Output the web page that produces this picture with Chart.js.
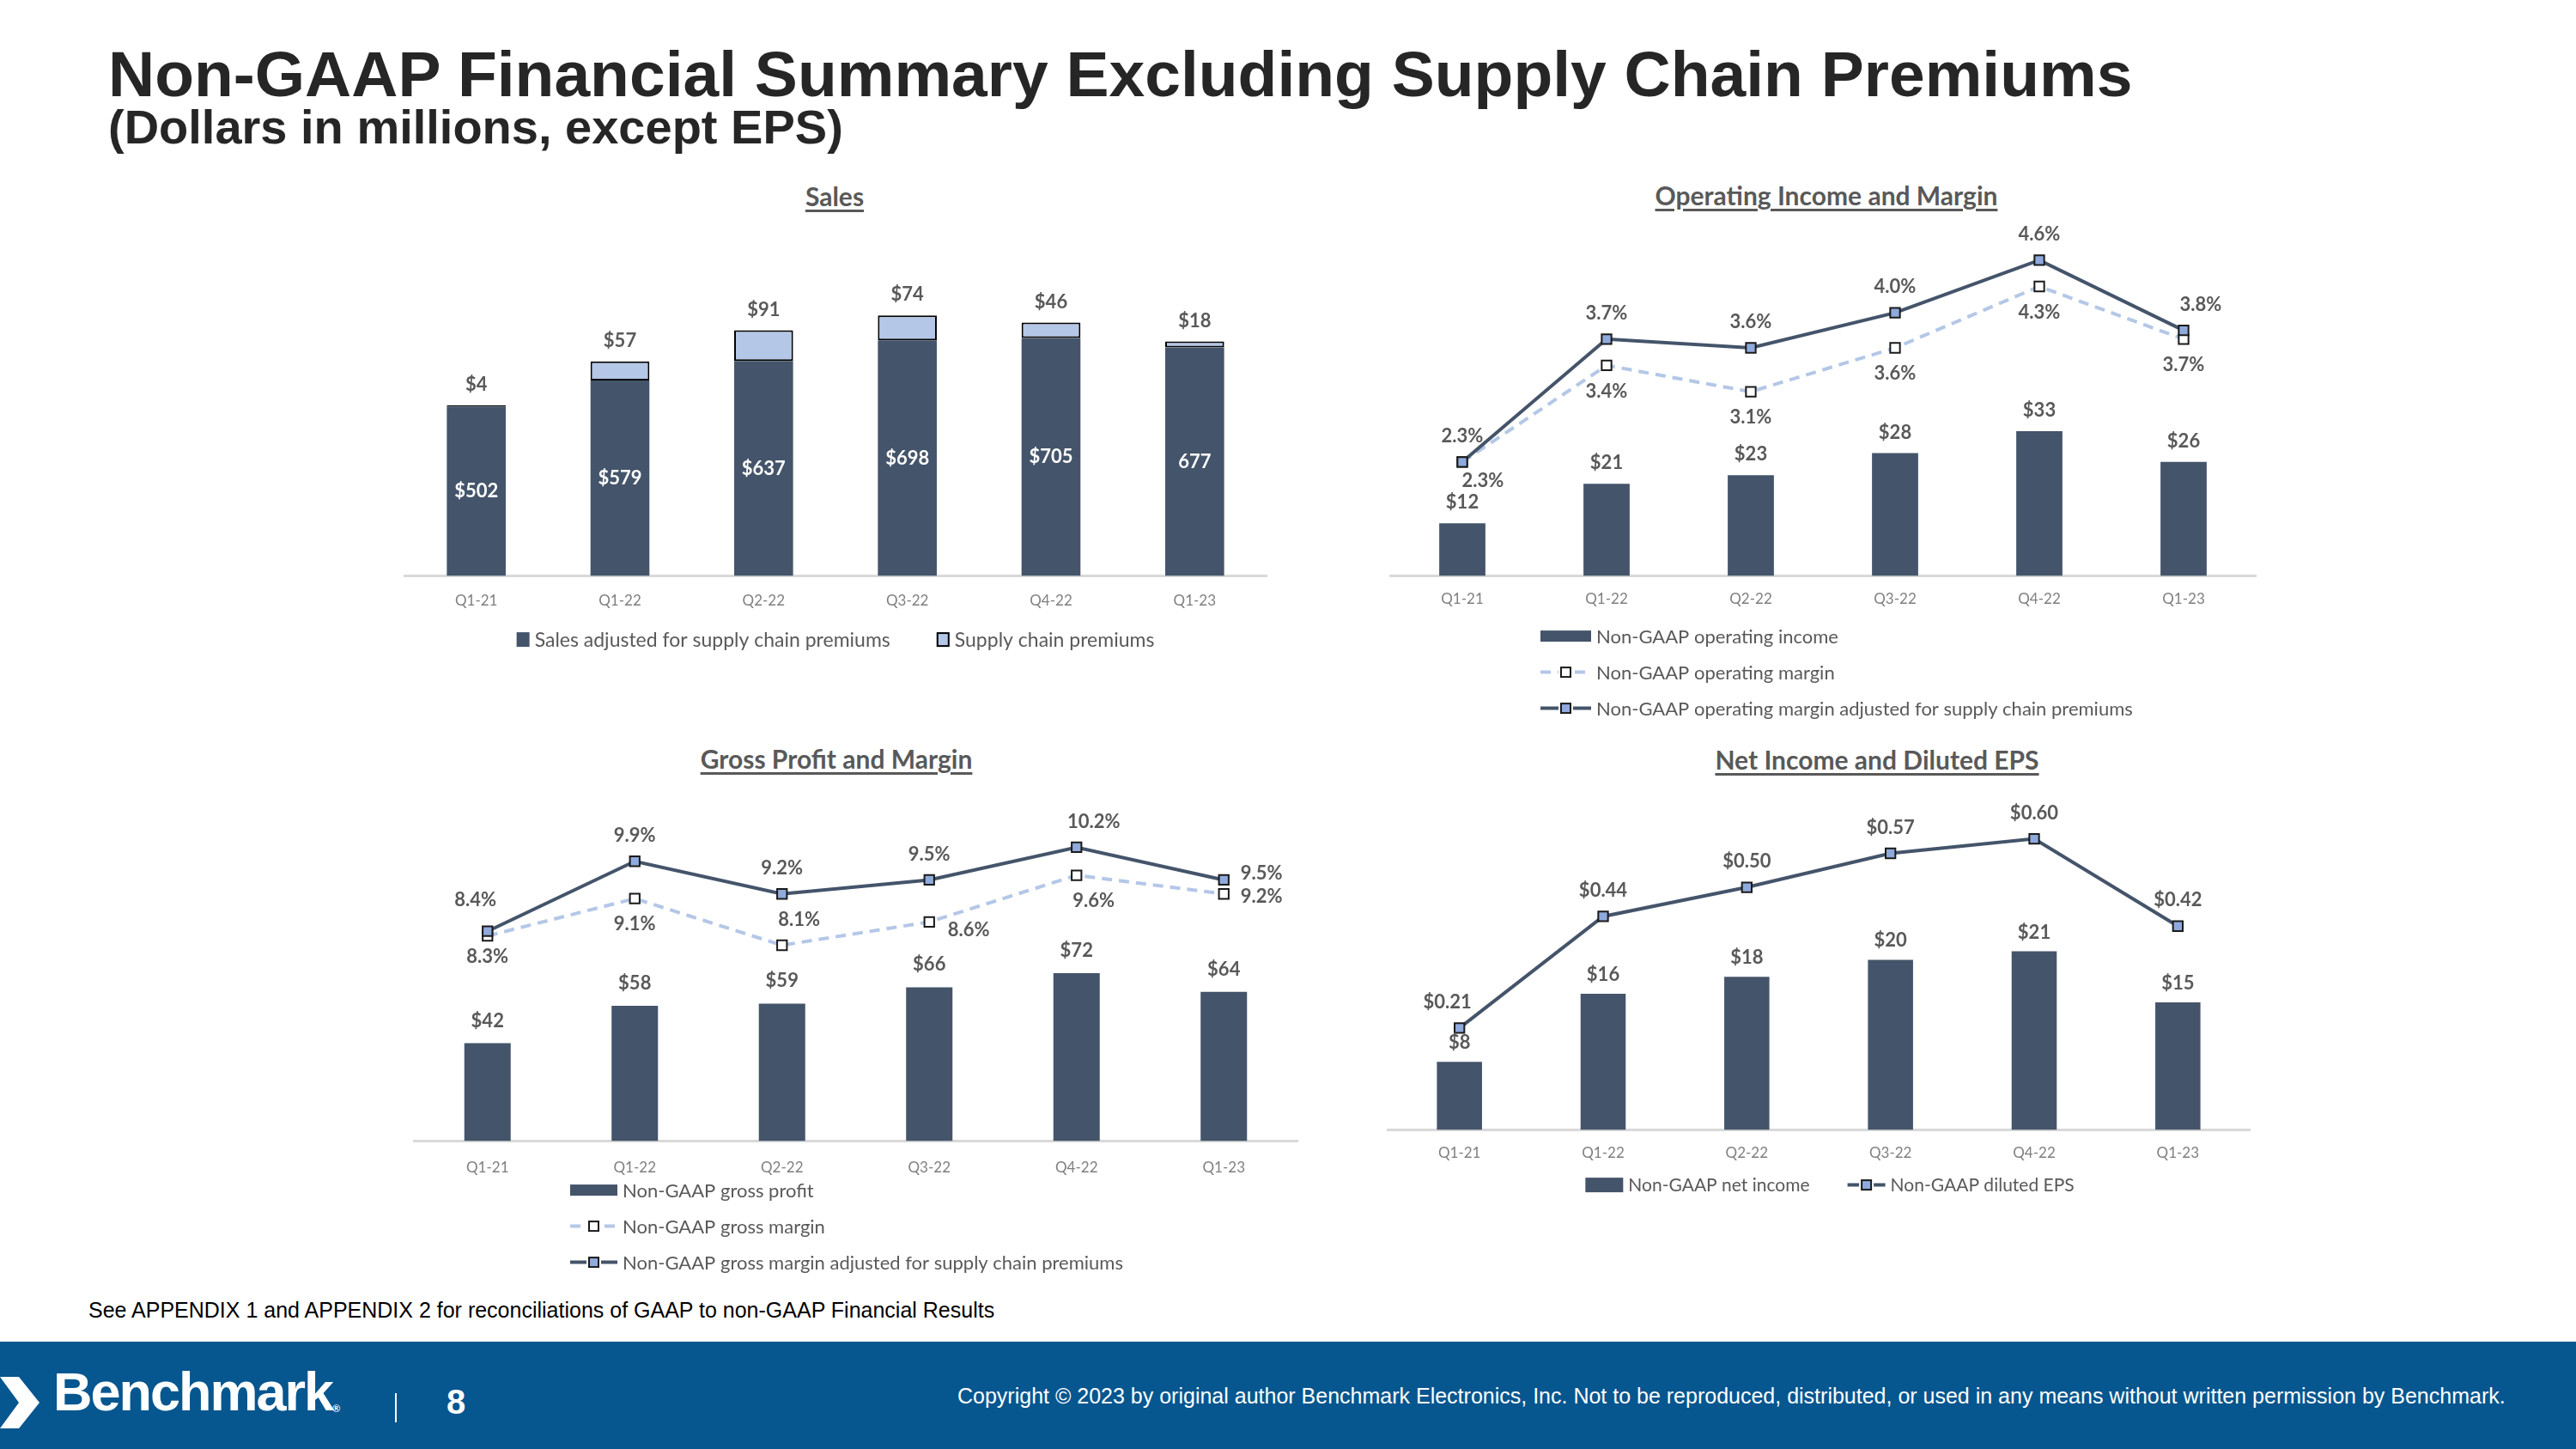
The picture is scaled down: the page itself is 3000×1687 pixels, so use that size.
<!DOCTYPE html>
<html>
<head>
<meta charset="utf-8">
<script src="https://cdn.jsdelivr.net/npm/chart.js@4.4.0/dist/chart.umd.min.js"></script>
<style>
  html, body { margin: 0; padding: 0; background: #fff; }
  body { width: 3000px; height: 1687px; position: relative; overflow: hidden; font-family: "Liberation Sans", Arial, sans-serif; }
  .abs { position: absolute; }
  #title { left: 126px; top: 49px; font-size: 75px; font-weight: bold; color: #262626; white-space: nowrap; line-height: 1; }
  #subtitle { left: 126px; top: 120px; font-size: 56px; font-weight: bold; color: #262626; white-space: nowrap; line-height: 1; }
  .ctitle { font-family: Lato, sans-serif; font-weight: bold; color: #595959; text-decoration: underline; text-underline-offset: 4px; font-size: 30px; white-space: nowrap; transform: translate(-50%, -50%); }
  #note { left: 103px; top: 1511px; font-size: 25px; color: #000; white-space: nowrap; }
  #footer { left: 0; top: 1562px; width: 3000px; height: 125px; background: #06568f; }
  #brand { left: 62px; top: 1589px; font-size: 63px; font-weight: bold; color: #fff; letter-spacing: -2px; white-space: nowrap; line-height: 1; }
  #brand sup { font-size: 12px; letter-spacing: 0; vertical-align: -2px; }
  #sep { left: 460px; top: 1622px; width: 2px; height: 34px; background: #fff; }
  #page { left: 520px; top: 1612px; font-size: 40px; font-weight: bold; color: #fff; line-height: 1; }
  #copy { left: 1115px; top: 1611px; font-size: 25px; color: #fff; white-space: nowrap; }
  canvas { position: absolute; }
</style>
</head>
<body>
<div id="title" class="abs">Non-GAAP Financial Summary Excluding Supply Chain Premiums</div>
<div id="subtitle" class="abs">(Dollars in millions, except EPS)</div>

<div class="abs ctitle" style="left:972px; top:228px;">Sales</div>
<div class="abs ctitle" style="left:2127px; top:227px;">Operating Income and Margin</div>
<div class="abs ctitle" style="left:974px; top:883px;">Gross Profit and Margin</div>
<div class="abs ctitle" style="left:2186px; top:884px;">Net Income and Diluted EPS</div>

<canvas id="salesChart" width="1030" height="560" style="left:460px; top:240px;"></canvas>
<canvas id="opChart" width="1050" height="620" style="left:1600px; top:240px;"></canvas>
<canvas id="grossChart" width="1060" height="580" style="left:470px; top:915px;"></canvas>
<canvas id="netChart" width="1040" height="500" style="left:1600px; top:915px;"></canvas>

<div id="note" class="abs">See APPENDIX 1 and APPENDIX 2 for reconciliations of GAAP to non-GAAP Financial Results</div>
<div id="footer" class="abs"></div>
<svg class="abs" style="left:0; top:1603px;" width="50" height="60"><polygon points="0,0 22,0 46,30 22,60 0,60 22,30" fill="#fff"/></svg>
<div id="brand" class="abs">Benchmark<sup>®</sup></div>
<div id="sep" class="abs"></div>
<div id="page" class="abs">8</div>
<div id="copy" class="abs">Copyright © 2023 by original author Benchmark Electronics, Inc. Not to be reproduced, distributed, or used in any means without written permission by Benchmark.</div>

<script>
// Données
const quarters = ['Q1-21', 'Q1-22', 'Q2-22', 'Q3-22', 'Q4-22', 'Q1-23'];

const salesAdjusted = [502, 579, 637, 698, 705, 677];
const salesAdjustedLabels = ['$502', '$579', '$637', '$698', '$705', '677'];
const supplyPremiums = [4, 57, 91, 74, 46, 18];

const opIncome = [12, 21, 23, 28, 33, 26];
const opMargin = [2.3, 3.4, 3.1, 3.6, 4.3, 3.7];
const opMarginAdj = [2.3, 3.7, 3.6, 4.0, 4.6, 3.8];

const grossProfit = [42, 58, 59, 66, 72, 64];
const grossMargin = [8.3, 9.1, 8.1, 8.6, 9.6, 9.2];
const grossMarginAdj = [8.4, 9.9, 9.2, 9.5, 10.2, 9.5];

const netIncome = [8, 16, 18, 20, 21, 15];
const dilutedEps = [0.21, 0.44, 0.50, 0.57, 0.60, 0.42];

const DARK = '#44546a';
const LIGHT = '#b4c7e7';
const LABEL = '#595959';
const TICK = '#7f7f7f';
const FONT = 'Lato, sans-serif';

const dollars = v => '$' + v;
const pct = v => v.toFixed(1) + '%';
const eps = v => '$' + v.toFixed(2);

// Étiquettes de valeurs (pas de plugin datalabels disponible)
// labelPos : 't', 'b', 'c', 'tl', 'tr', 'br', 'r'... ou un décalage [dx, dy]
const valueLabels = {
  id: 'valueLabels',
  afterDatasetsDraw(chart) {
    const ctx = chart.ctx;
    ctx.save();
    chart.data.datasets.forEach((ds, i) => {
      if (!ds.labelPos) return;
      const meta = chart.getDatasetMeta(i);
      meta.data.forEach((el, j) => {
        const text = ds.labelText ? ds.labelText[j] : ds.labelFormat(ds.data[j]);
        const pos = typeof ds.labelPos === 'string' ? ds.labelPos : ds.labelPos[j];
        const off = ds.labelOffset || 28;
        let x = el.x, y = el.y;
        if (Array.isArray(pos)) {
          x += pos[0]; y += pos[1];
        } else {
          if (pos === 'c') y = (el.y + el.base) / 2;
          if (pos.includes('t')) y -= off;
          if (pos.includes('b')) y += off;
          if (pos.includes('l')) x -= pos.length > 1 ? 14 : 40;
          if (pos.includes('r')) x += pos.length > 1 ? 20 : 44;
        }
        ctx.font = 'bold 22px ' + FONT;
        ctx.fillStyle = ds.labelColor || LABEL;
        ctx.textAlign = 'center';
        ctx.textBaseline = 'middle';
        ctx.fillText(text, x, y);
      });
    });
    ctx.restore();
  }
};

// Légende dessinée à la main (une ligne ou une colonne)
const customLegend = {
  id: 'customLegend',
  afterDraw(chart, args, opts) {
    const ctx = chart.ctx;
    const ca = chart.chartArea;
    ctx.save();
    ctx.font = opts.fontSize + 'px ' + FONT;
    ctx.textBaseline = 'middle';
    ctx.textAlign = 'left';
    const items = chart.data.datasets;
    const sw = opts.symbolWidth, sh = opts.symbolHeight;
    const widths = items.map(ds => sw + 6 + ctx.measureText(ds.label).width);
    const positions = [];
    if (opts.direction === 'row') {
      const total = widths.reduce((a, b) => a + b, 0) + opts.gap * (items.length - 1);
      let x = (ca.left + ca.right) / 2 - total / 2 + (opts.shift || 0);
      items.forEach((ds, i) => { positions.push([x, ca.bottom + opts.top]); x += widths[i] + opts.gap; });
    } else {
      items.forEach((ds, i) => positions.push([opts.left, ca.bottom + opts.top + i * opts.rowGap]));
    }
    items.forEach((ds, i) => {
      const [x, y] = positions[i];
      if (ds.type === 'line') {
        ctx.strokeStyle = ds.borderColor;
        ctx.lineWidth = ds.borderWidth;
        ctx.setLineDash(ds.borderDash || []);
        ctx.beginPath();
        ctx.moveTo(x, y);
        ctx.lineTo(x + sw, y);
        ctx.stroke();
        ctx.setLineDash([]);
        const s = 11;
        ctx.fillStyle = '#fff';
        ctx.fillRect(x + sw / 2 - s / 2 - 3, y - s / 2, s + 6, s);
        ctx.fillStyle = ds.pointBackgroundColor;
        ctx.strokeStyle = ds.pointBorderColor;
        ctx.lineWidth = 2;
        ctx.fillRect(x + sw / 2 - s / 2, y - s / 2, s, s);
        ctx.strokeRect(x + sw / 2 - s / 2, y - s / 2, s, s);
      } else {
        ctx.fillStyle = ds.backgroundColor;
        ctx.fillRect(x, y - sh / 2, sw, sh);
        if (ds.borderWidth) {
          ctx.strokeStyle = ds.borderColor;
          ctx.lineWidth = 2;
          ctx.strokeRect(x + 1, y - sh / 2 + 1, sw - 2, sh - 2);
        }
      }
      ctx.fillStyle = LABEL;
      ctx.fillText(ds.label, x + sw + 6, y + 1);
    });
    ctx.restore();
  }
};

Chart.register(valueLabels, customLegend);

function xAxis(padding) {
  return {
    offset: true,
    grid: { display: false },
    border: { display: true, color: '#d9d9d9', width: 3 },
    ticks: { color: TICK, font: { family: FONT, size: 17 }, padding: padding }
  };
}

function baseOptions(pad, legend) {
  return {
    responsive: false,
    animation: false,
    devicePixelRatio: 1,
    layout: { padding: pad },
    plugins: {
      legend: { display: false },
      tooltip: { enabled: false },
      customLegend: legend
    }
  };
}

function marginLine(label, data, dashed, pos, axis) {
  return {
    type: 'line',
    label: label,
    data: data,
    yAxisID: axis,
    borderColor: dashed ? LIGHT : DARK,
    borderWidth: 4,
    borderDash: dashed ? [12, 8] : [],
    pointStyle: 'rect',
    pointRadius: 8,
    pointBorderWidth: 2,
    pointBackgroundColor: dashed ? '#ffffff' : '#8faadc',
    pointBorderColor: '#1a1a1a',
    tension: 0,
    order: dashed ? 1 : 0,
    clip: false,
    labelFormat: label.includes('EPS') ? eps : pct,
    labelPos: pos,
    labelOffset: 30
  };
}

// Ventes
new Chart(document.getElementById('salesChart'), {
  type: 'bar',
  data: {
    labels: quarters,
    datasets: [{
      label: 'Sales adjusted for supply chain premiums',
      data: salesAdjusted,
      backgroundColor: DARK,
      borderWidth: 0,
      barPercentage: 0.41,
      categoryPercentage: 1,
      labelText: salesAdjustedLabels,
      labelPos: 'c',
      labelColor: '#ffffff'
    }, {
      label: 'Supply chain premiums',
      data: supplyPremiums,
      backgroundColor: LIGHT,
      borderColor: '#000000',
      borderWidth: 2,
      borderSkipped: false,
      barPercentage: 0.41,
      categoryPercentage: 1,
      labelFormat: dollars,
      labelPos: 't',
      labelOffset: 24
    }]
  },
  options: Object.assign(baseOptions({ left: 11, right: 15, top: 22, bottom: 79 },
    { direction: 'row', top: 74, gap: 54, symbolWidth: 15, symbolHeight: 17, fontSize: 23 }), {
    scales: {
      x: Object.assign(xAxis(11), { stacked: true }),
      y: { display: false, stacked: true, min: 0, max: 1040 }
    }
  })
});

// Résultat opérationnel et marge
new Chart(document.getElementById('opChart'), {
  type: 'bar',
  data: {
    labels: quarters,
    datasets: [{
      type: 'bar',
      label: 'Non-GAAP operating income',
      data: opIncome,
      yAxisID: 'y',
      backgroundColor: DARK,
      barPercentage: 0.32,
      categoryPercentage: 1,
      order: 2,
      labelFormat: dollars,
      labelPos: 't',
      labelOffset: 24
    },
    marginLine('Non-GAAP operating margin', opMargin, true, [[24, 22], 'b', 'b', 'b', 'b', 'b'], 'y2'),
    marginLine('Non-GAAP operating margin adjusted for supply chain premiums', opMarginAdj, false, ['t', 't', 't', 't', 't', 'tr'], 'y2')]
  },
  options: Object.assign(baseOptions({ left: 19, right: 23, top: 22, bottom: 143 },
    { direction: 'column', left: 194, top: 70, rowGap: 42, symbolWidth: 59, symbolHeight: 13, fontSize: 22 }), {
    scales: {
      x: xAxis(9),
      y: { display: false, min: 0, max: 80 },
      y2: { display: false, min: 1, max: 5 }
    }
  })
});

// Marge brute
new Chart(document.getElementById('grossChart'), {
  type: 'bar',
  data: {
    labels: quarters,
    datasets: [{
      type: 'bar',
      label: 'Non-GAAP gross profit',
      data: grossProfit,
      yAxisID: 'y',
      backgroundColor: DARK,
      barPercentage: 0.315,
      categoryPercentage: 1,
      order: 2,
      labelFormat: dollars,
      labelPos: 't',
      labelOffset: 26
    },
    marginLine('Non-GAAP gross margin', grossMargin, true, [[0, 24], 'b', 'tr', [46, 10], 'br', [44, 3]], 'y2'),
    marginLine('Non-GAAP gross margin adjusted for supply chain premiums', grossMarginAdj, false, [[-14, -36], 't', 't', 't', 'tr', [44, -8]], 'y2')]
  },
  options: Object.assign(baseOptions({ left: 12, right: 19, top: 28, bottom: 112 },
    { direction: 'column', left: 194, top: 57, rowGap: 42, symbolWidth: 55, symbolHeight: 13, fontSize: 22 }), {
    scales: {
      x: xAxis(13),
      y: { display: false, min: 0, max: 142 },
      y2: { display: false, min: 3.9, max: 11 }
    }
  })
});

// Résultat net et BPA dilué
new Chart(document.getElementById('netChart'), {
  type: 'bar',
  data: {
    labels: quarters,
    datasets: [{
      type: 'bar',
      label: 'Non-GAAP net income',
      data: netIncome,
      yAxisID: 'y',
      backgroundColor: DARK,
      barPercentage: 0.314,
      categoryPercentage: 1,
      order: 2,
      labelFormat: dollars,
      labelPos: 't',
      labelOffset: 22
    },
    marginLine('Non-GAAP diluted EPS', dilutedEps, false, ['tl', 't', 't', 't', 't', 't'], 'y2')]
  },
  options: Object.assign(baseOptions({ left: 16, right: 20, top: 22, bottom: 53 },
    { direction: 'row', top: 64, gap: 44, shift: 13, symbolWidth: 44, symbolHeight: 17, fontSize: 21 }), {
    scales: {
      x: xAxis(9),
      y: { display: false, min: 0, max: 38.2 },
      y2: { display: false, min: 0, max: 0.67 }
    }
  })
});
</script>
</body>
</html>
